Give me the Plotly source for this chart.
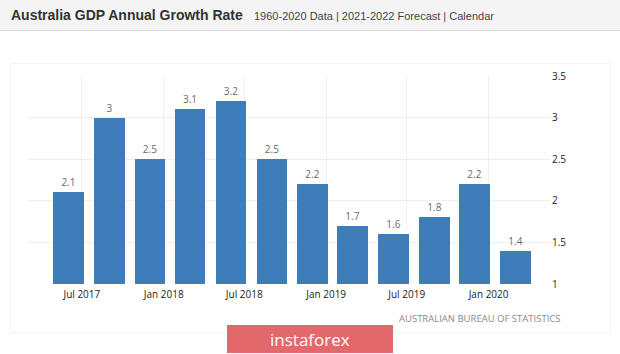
import plotly.graph_objects as go

quarters = ["2017-06-01", "2017-09-01", "2017-12-01", "2018-03-01", "2018-06-01", "2018-09-01",
            "2018-12-01", "2019-03-01", "2019-06-01", "2019-09-01", "2019-12-01", "2020-03-01"]
growth = [2.1, 3.0, 2.5, 3.1, 3.2, 2.5, 2.2, 1.7, 1.6, 1.8, 2.2, 1.4]
labels = ["2.1", "3", "2.5", "3.1", "3.2", "2.5", "2.2", "1.7", "1.6", "1.8", "2.2", "1.4"]
y_ticks = [1, 1.5, 2, 2.5, 3, 3.5]
y_tick_text = ["1", "1.5", "2", "2.5", "3", "3.5"]

W, H = 620, 354
ML, MR, MT, MB = 28, 70, 76, 70
PW, PH = W - ML - MR, H - MT - MB

def px(x):
    return (x - ML) / PW

def py(y):
    return (H - MB - y) / PH

fig = go.Figure()
fig.add_trace(go.Bar(
    x=quarters, y=[v - 1 for v in growth], base=1,
    marker=dict(color="#3f7db8", line=dict(width=0)),
    width=69 * 86400000,
    text=labels, textposition="outside",
    textfont=dict(family="Open Sans", size=10, color="#6a6a6a"),
    cliponaxis=False, hoverinfo="skip",
))

shapes = [
    dict(type="rect", xref="paper", yref="paper", x0=px(0), x1=px(620), y0=py(0), y1=py(30),
         fillcolor="#f4f4f4", line=dict(width=0), layer="below"),
    dict(type="line", xref="paper", yref="paper", x0=px(0), x1=px(620), y0=py(30.5), y1=py(30.5),
         line=dict(color="#dedede", width=1)),
    dict(type="rect", xref="paper", yref="paper", x0=px(10.5), x1=px(610.5), y0=py(63.5), y1=py(332.5),
         fillcolor="rgba(0,0,0,0)", line=dict(color="#f3f3f3", width=1), layer="below"),
    dict(type="rect", xref="paper", yref="paper", x0=px(227), x1=px(393), y0=py(325), y1=py(353),
         fillcolor="#e2686c", line=dict(width=0)),
]

annotations = [
    dict(text="<b>Australia GDP Annual Growth Rate</b>", xref="paper", yref="paper",
         x=px(9), y=py(15), xanchor="left", yanchor="middle", showarrow=False,
         font=dict(family="Liberation Sans", size=14, color="#333333")),
    dict(text="1960-2020 Data | 2021-2022 Forecast | Calendar", xref="paper", yref="paper",
         x=px(252), y=py(15.5), xanchor="left", yanchor="middle", showarrow=False,
         font=dict(family="Liberation Sans", size=11, color="#444444")),
    dict(text="AUSTRALIAN BUREAU OF STATISTICS", xref="paper", yref="paper",
         x=px(562), y=py(318), xanchor="right", yanchor="middle", showarrow=False,
         font=dict(family="Open Sans", size=9.5, color="#8a8a8a")),
    dict(text="instaforex", xref="paper", yref="paper",
         x=px(310), y=py(339), xanchor="center", yanchor="middle", showarrow=False,
         font=dict(family="Open Sans", size=17, color="#ffffff")),
]

fig.update_layout(
    width=W, height=H,
    margin=dict(l=ML, r=MR, t=MT, b=MB, pad=0),
    paper_bgcolor="#ffffff", plot_bgcolor="#ffffff",
    showlegend=False, bargap=0,
    shapes=shapes, annotations=annotations,
    xaxis=dict(
        type="date", range=["2017-03-02", "2020-05-18"],
        tick0="2017-07-01", dtick="M6", tickformat="%b %Y",
        showgrid=True, gridcolor="#f0f0f0", gridwidth=1,
        zeroline=False, showline=False, ticks="",
        tickfont=dict(family="Open Sans", size=10, color="#1a1a1a"),
        ticklabelstandoff=3,
    ),
    yaxis=dict(
        range=[1, 3.5], side="right", tickvals=y_ticks, ticktext=y_tick_text,
        showgrid=True, gridcolor="#eeeeee", gridwidth=1,
        zeroline=False, showline=False, ticks="",
        tickfont=dict(family="Open Sans", size=10, color="#1a1a1a"),
        ticklabelstandoff=1,
    ),
)

fig.write_html("out.html")
